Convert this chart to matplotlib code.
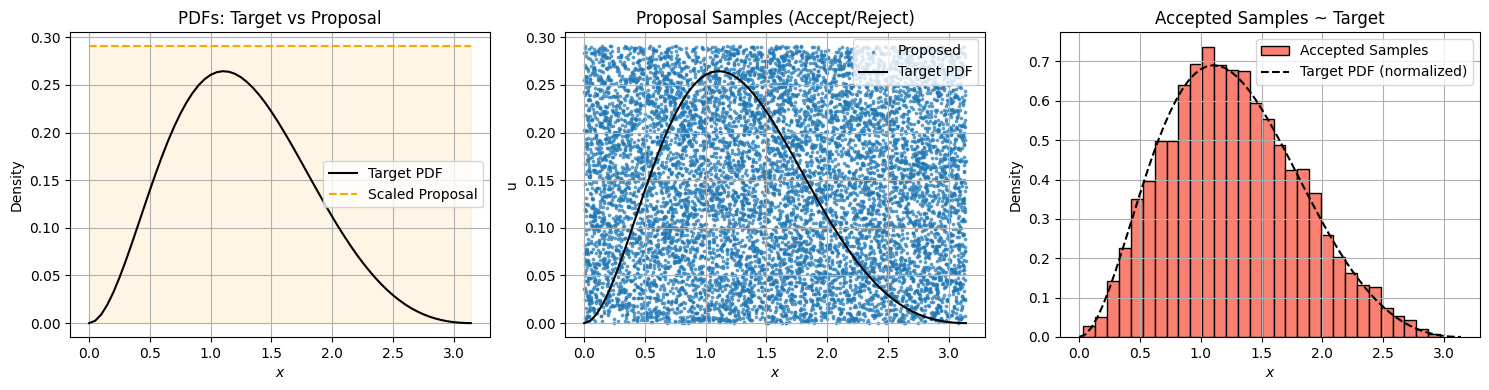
import numpy as np
import matplotlib
matplotlib.use("Agg")
import matplotlib.pyplot as plt

# target pdf, every 0.05 on x (last point is pi)
x_pdf = [0.0, 0.05, 0.1, 0.15, 0.2, 0.25, 0.3, 0.35, 0.4, 0.45, 0.5, 0.55, 0.6, 0.65,
         0.7, 0.75, 0.8, 0.85, 0.9, 0.95, 1.0, 1.05, 1.1, 1.15, 1.2, 1.25, 1.3, 1.35,
         1.4, 1.45, 1.5, 1.55, 1.6, 1.65, 1.7, 1.75, 1.8, 1.85, 1.9, 1.95, 2.0, 2.05,
         2.1, 2.15, 2.2, 2.25, 2.3, 2.35, 2.4, 2.45, 2.5, 2.55, 2.6, 2.65, 2.7, 2.75,
         2.8, 2.85, 2.9, 2.95, 3.0, 3.05, 3.1, 3.1416]
y_pdf = [0.0, 0.0024, 0.0090, 0.0192, 0.0323, 0.0477, 0.0647, 0.0829, 0.1017, 0.1206,
         0.1394, 0.1576, 0.1750, 0.1912, 0.2061, 0.2195, 0.2312, 0.2412, 0.2495, 0.2559,
         0.2605, 0.2633, 0.2644, 0.2638, 0.2617, 0.2580, 0.2530, 0.2468, 0.2395, 0.2312,
         0.2220, 0.2122, 0.2017, 0.1909, 0.1797, 0.1683, 0.1568, 0.1453, 0.1340, 0.1228,
         0.1119, 0.1013, 0.0913, 0.0816, 0.0724, 0.0638, 0.0558, 0.0483, 0.0414, 0.0351,
         0.0294, 0.0243, 0.0197, 0.0157, 0.0123, 0.0093, 0.0068, 0.0048, 0.0032, 0.0019,
         0.0010, 0.0004, 0.0001, 0.0]
pdf_area = 0.383          # target pdf (normalized) peaks at ~0.691
proposal_height = 0.291   # scaled uniform proposal
x_lo, x_hi = 0.0, 3.1416
n_proposed = 10000

# accepted-sample histogram, 30 bins
bin_lo, bin_hi = 0.033, 2.97
hist_density = [0.028, 0.051, 0.143, 0.227, 0.350, 0.395, 0.499, 0.499, 0.640, 0.693,
                0.738, 0.690, 0.679, 0.676, 0.594, 0.553, 0.489, 0.423, 0.428, 0.365,
                0.260, 0.204, 0.163, 0.131, 0.126, 0.074, 0.053, 0.044, 0.020, 0.008]


def spread(offset):
    # deterministic hash fill of [0, 1): the cloud can't be read point by point
    h = (np.arange(n_proposed, dtype=np.uint64) + np.uint64(offset)) & np.uint64(0xFFFFFFFF)
    m = np.uint64(0xFFFFFFFF)
    h ^= h >> np.uint64(16)
    h = (h * np.uint64(0x85EBCA6B)) & m
    h ^= h >> np.uint64(13)
    h = (h * np.uint64(0xC2B2AE35)) & m
    h ^= h >> np.uint64(16)
    return h.astype(float) / 2**32


prop_x = x_lo + (x_hi - x_lo) * spread(1)
prop_u = proposal_height * spread(500001)

fig, axes = plt.subplots(1, 3, figsize=(14.89, 3.9), dpi=100)
fig.subplots_adjust(left=0.047, right=0.994, top=0.918, bottom=0.136, wspace=0.179)

# PDFs
ax = axes[0]
ax.plot(x_pdf, y_pdf, color='black', label='Target PDF')
ax.plot([x_lo, x_hi], [proposal_height, proposal_height], '--', color='orange', label='Scaled Proposal')
ax.fill_between([x_lo, x_hi], 0, proposal_height, color='orange', alpha=0.1)
ax.set_title('PDFs: Target vs Proposal')
ax.set_xlabel('$x$')
ax.set_ylabel('Density')
ax.legend(loc='center right')
ax.grid(True)

# proposal samples
ax = axes[1]
ax.scatter(prop_x, prop_u, s=3, alpha=0.6, color='C0', label='Proposed')
ax.plot(x_pdf, y_pdf, color='black', label='Target PDF')
ax.set_title('Proposal Samples (Accept/Reject)')
ax.set_xlabel('$x$')
ax.set_ylabel('u')
ax.legend(loc='upper right')
ax.grid(True)

# accepted samples
ax = axes[2]
edges = np.linspace(bin_lo, bin_hi, len(hist_density) + 1)
bars = ax.bar(edges[:-1], hist_density, width=np.diff(edges), align='edge',
              color='salmon', edgecolor='black', label='Accepted Samples')
line, = ax.plot(x_pdf, np.array(y_pdf) / pdf_area, 'k--', label='Target PDF (normalized)')
ax.set_title('Accepted Samples ~ Target')
ax.set_xlabel('$x$')
ax.set_ylabel('Density')
ax.legend(handles=[bars, line], loc='upper right')
ax.grid(True)

plt.savefig('out.png')
